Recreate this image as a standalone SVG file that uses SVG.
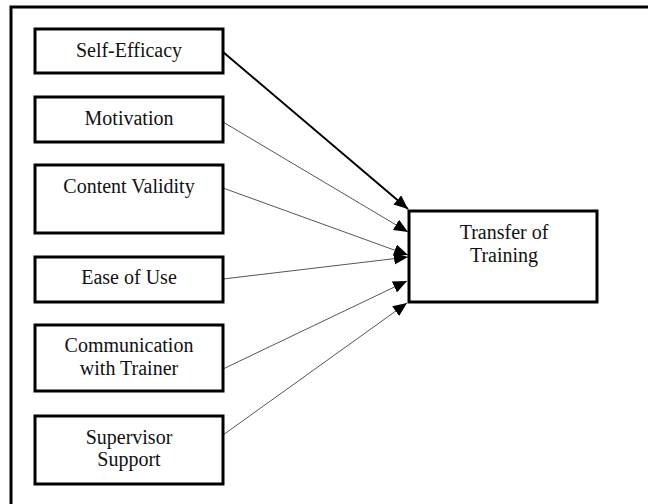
<svg xmlns="http://www.w3.org/2000/svg" width="648" height="504" viewBox="0 0 648 504">
<style>
.box{fill:#fff;stroke:#000;stroke-width:3}
.t{font-family:"Liberation Serif","Times New Roman",serif;font-size:20px;fill:#111;text-anchor:middle}
.thin{stroke:#555;stroke-width:1;fill:none}
.thick{stroke:#000;stroke-width:2;fill:none}
</style>
<defs>
<marker id="ah" markerUnits="userSpaceOnUse" markerWidth="14" markerHeight="12" refX="14" refY="6" orient="auto">
<path d="M0,0 L14,6 L0,12 z" fill="#000"/>
</marker>
</defs>
<rect x="0" y="0" width="648" height="504" fill="#fff"/>
<rect x="11" y="7" width="700" height="600" fill="none" stroke="#000" stroke-width="3"/>
<g id="connectors">
<line class="thick" x1="223" y1="52" x2="408" y2="209" marker-end="url(#ah)"/>
<line class="thin" x1="223" y1="122" x2="408" y2="232" marker-end="url(#ah)"/>
<line class="thin" x1="223" y1="188" x2="408" y2="255" marker-end="url(#ah)"/>
<line class="thin" x1="223" y1="279" x2="408" y2="257" marker-end="url(#ah)"/>
<line class="thin" x1="223" y1="369" x2="407" y2="281" marker-end="url(#ah)"/>
<line class="thin" x1="223" y1="435" x2="407" y2="303" marker-end="url(#ah)"/>
</g>
<g id="self-efficacy"><rect class="box" x="35" y="29" width="188" height="44"/><text class="t" x="129" y="57">Self-Efficacy</text></g>
<g id="motivation"><rect class="box" x="35" y="97" width="188" height="45"/><text class="t" x="129" y="125">Motivation</text></g>
<g id="content-validity"><rect class="box" x="35" y="165" width="188" height="68"/><text class="t" x="129" y="193">Content Validity</text></g>
<g id="ease-of-use"><rect class="box" x="35" y="257" width="188" height="45"/><text class="t" x="129" y="284">Ease of Use</text></g>
<g id="communication"><rect class="box" x="35" y="325" width="188" height="66"/><text class="t" x="129" y="352">Communication</text><text class="t" x="129" y="375">with Trainer</text></g>
<g id="supervisor-support"><rect class="box" x="35" y="416" width="188" height="68"/><text class="t" x="129" y="444">Supervisor</text><text class="t" x="129" y="466">Support</text></g>
<g id="transfer"><rect class="box" x="409" y="211" width="188" height="91"/><text class="t" x="504" y="239">Transfer of</text><text class="t" x="504" y="262">Training</text></g>
</svg>
